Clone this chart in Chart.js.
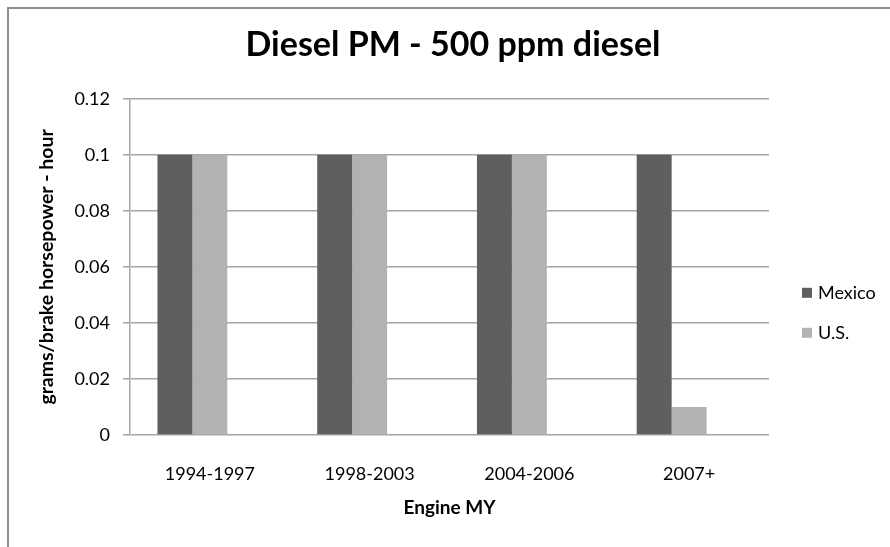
<!DOCTYPE html>
<html>
<head>
<meta charset="utf-8">
<script src="https://cdn.jsdelivr.net/npm/chart.js@4/dist/chart.umd.min.js"></script>
<style>
    body { margin: 0; background: #fff; }
    #wrap { position: relative; width: 890px; height: 547px; overflow: hidden; }
    #frame {
        position: absolute; left: 7px; top: 7px; width: 900px; height: 560px;
        border-left: 2px solid #8f8f8f; border-top: 2px solid #8f8f8f;
    }
    canvas { position: absolute; left: 0; top: 0; }
</style>
</head>
<body>
<div id="wrap">
    <div id="frame"></div>
    <canvas id="barChart" width="890" height="547"></canvas>
</div>
<script>
const categories = ['1994-1997', '1998-2003', '2004-2006', '2007+'];
const mexicoValues = [0.1, 0.1, 0.1, 0.1];
const usValues = [0.1, 0.1, 0.1, 0.01];
// the source workbook has a third, empty series that still takes a slot
const emptyValues = [null, null, null, null];
const seriesNames = ['Mexico', 'U.S.'];
const seriesColors = ['#5f5f5f', '#b2b2b2'];

const FONT = 'Lato, "Open Sans", sans-serif';

/**
 * Simple legend to the right of the plot, Excel style
 */
const sideLegend = {
    id: 'sideLegend',
    afterDraw(chart) {
        const { ctx, chartArea } = chart;
        const x = chartArea.right + 33;
        let y = chartArea.top + 194;
        ctx.save();
        ctx.font = '18px ' + FONT;
        ctx.textBaseline = 'middle';
        ctx.textAlign = 'left';
        chart.data.datasets.filter(ds => ds.label).forEach(ds => {
            ctx.fillStyle = ds.backgroundColor;
            ctx.fillRect(x, y - 5, 10, 10);
            ctx.fillStyle = '#000';
            ctx.fillText(ds.label, x + 16, y);
            y += 40;
        });
        ctx.restore();
    }
};

const barOpts = { categoryPercentage: 0.65625, barPercentage: 1 };

const ctx = document.getElementById('barChart').getContext('2d');
const chart = new Chart(ctx, {
    type: 'bar',
    data: {
        labels: categories,
        datasets: [
            { label: seriesNames[0], data: mexicoValues, backgroundColor: seriesColors[0], ...barOpts },
            { label: seriesNames[1], data: usValues, backgroundColor: seriesColors[1], ...barOpts },
            { label: '', data: emptyValues, backgroundColor: '#888', ...barOpts }
        ]
    },
    options: {
        responsive: false,
        animation: false,
        layout: {
            padding: { left: 16, right: 0, top: 10, bottom: 20 }
        },
        plugins: {
            legend: { display: false },
            tooltip: { enabled: false },
            title: {
                display: true,
                text: 'Diesel PM - 500 ppm diesel',
                color: '#000',
                font: { family: FONT, size: 34, weight: 'bold', lineHeight: 1.2 },
                padding: { top: 15, bottom: 33 }
            }
        },
        scales: {
            x: {
                grid: { display: false, drawTicks: false },
                border: { display: false },
                ticks: {
                    color: '#000',
                    padding: 28,
                    font: { family: FONT, size: 18 }
                },
                title: {
                    display: true,
                    text: 'Engine MY',
                    color: '#000',
                    font: { family: FONT, size: 19, weight: 'bold' },
                    padding: 8
                },
                afterFit(scale) { scale.height = 92; }
            },
            y: {
                min: 0,
                max: 0.12,
                ticks: {
                    stepSize: 0.02,
                    color: '#000',
                    padding: 13,
                    font: { family: FONT, size: 18 },
                    callback: value => String(Number(value.toFixed(2)))
                },
                grid: {
                    color: '#a6a6a6',
                    lineWidth: 1.5,
                    tickLength: 7
                },
                border: { color: '#a6a6a6', width: 1.5 },
                title: {
                    display: true,
                    text: 'grams/brake horsepower - hour',
                    color: '#000',
                    font: { family: FONT, size: 19.5, weight: 'bold' },
                    padding: { top: 19 }
                },
                afterFit(scale) { scale.width = 114; }
            },
            // room on the right for the legend
            legendSpace: {
                position: 'right',
                grid: { display: false, drawTicks: false },
                border: { display: false },
                ticks: { display: false },
                afterFit(scale) { scale.width = 121; }
            }
        }
    },
    plugins: [sideLegend]
});
</script>
</body>
</html>
